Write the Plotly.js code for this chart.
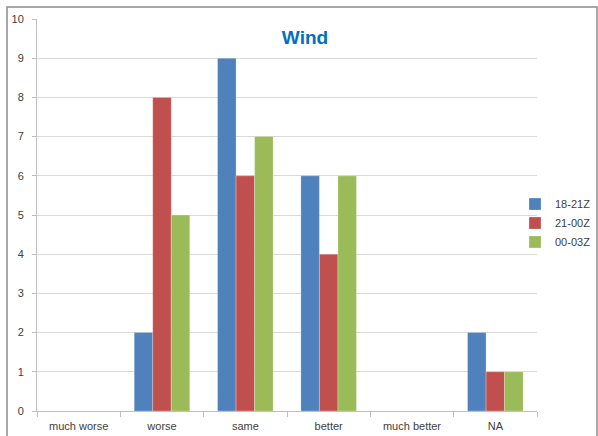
<!DOCTYPE html>
<html><head><meta charset="utf-8">
<script src="https://cdn.plot.ly/plotly-3.0.1.min.js"></script>
<style>html,body{margin:0;padding:0;background:#fff}#chart{width:598px;height:436px}</style>
</head><body><div id="chart"></div>
<script>
const categories = ["much worse","worse","same","better","much better","NA"];
const seriesNames = ["18-21Z","21-00Z","00-03Z"];
const s1821 = [0,2,9,6,0,2];
const s2100 = [0,8,6,4,0,1];
const s0003 = [0,5,7,6,0,1];
const yTicks = [0,1,2,3,4,5,6,7,8,9,10];
const colors = ["#4F81BD","#C0504D","#9BBB59"];
const F = "Liberation Sans, Arial, sans-serif";
const vals = [s1821,s2100,s0003];
const traces = vals.map((v,i)=>({
  type:"bar", x:categories, y:v, name:seriesNames[i],
  marker:{color:colors[i], line:{color:"rgba(255,255,255,0.5)", width:0.5}}
}));
const layout = {
  width:598, height:436,
  margin:{l:37, r:61, t:19, b:25, autoexpand:false},
  paper_bgcolor:"#fff", plot_bgcolor:"#fff",
  barmode:"group", bargap:0.333, bargroupgap:0,
  showlegend:true,
  legend:{xref:"container", yref:"container", x:515/598, y:1-223/436, xanchor:"left", yanchor:"middle",
    font:{family:F, size:11, color:"#404040"},
    itemwidth:30, tracegroupgap:0, bgcolor:"rgba(0,0,0,0)"},
  title:{text:"<b>Wind</b>", font:{family:F, size:19, color:"#0070C0"}, x:305/598, xanchor:"center", y:1-37/436, yanchor:"middle"},
  xaxis:{type:"category", showline:true, linecolor:"#BFBFBF", linewidth:1, ticks:"outside", tickson:"boundaries",
    ticklen:5, tickcolor:"#BFBFBF", showgrid:false, ticklabelstandoff:5, tickfont:{family:F, size:11, color:"#404040"}, fixedrange:true},
  yaxis:{range:[0,10], tickvals:yTicks, showline:true, linecolor:"#BFBFBF", linewidth:1, ticks:"outside", ticklen:4,
    tickcolor:"#BFBFBF", showgrid:true, gridcolor:"#D9D9D9", gridwidth:1, zeroline:false, ticklabelstandoff:6,
    tickfont:{family:F, size:11, color:"#404040"}, fixedrange:true},
  shapes:[{type:"rect", xref:"paper", yref:"paper", x0:(7-37)/500, x1:(597-37)/500, y0:(411-460)/392, y1:(411-7)/392,
    line:{color:"#8C8C8C", width:1.5}, fillcolor:"rgba(0,0,0,0)", layer:"below"}]
};
Plotly.newPlot("chart", traces, layout, {displayModeBar:false, staticPlot:true});
</script></body></html>
